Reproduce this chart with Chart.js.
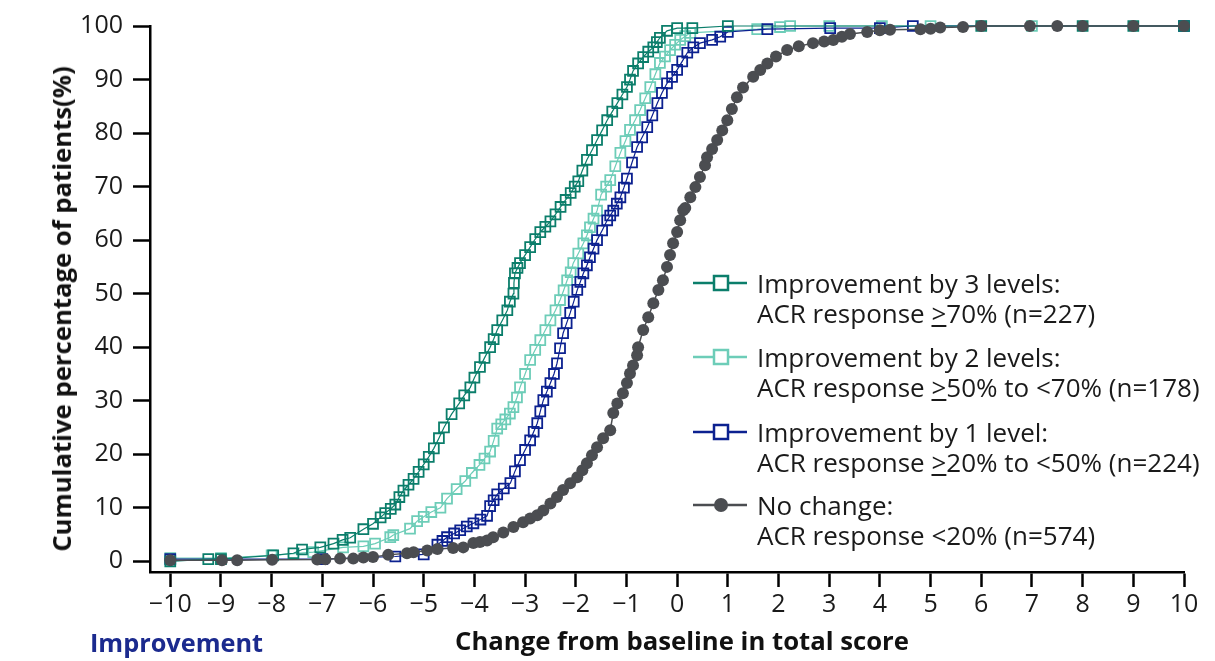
<!DOCTYPE html>
<html>
<head>
<meta charset="utf-8">
<script src="https://cdn.jsdelivr.net/npm/chart.js@4.4.1/dist/chart.umd.min.js"></script>
<style>
  html, body { margin: 0; padding: 0; background: #fff; }
  #wrap { position: relative; width: 1215px; height: 661px; overflow: hidden; font-family: "Open Sans", Lato, sans-serif; }
  canvas { position: absolute; left: 0; top: 0; }
  .leg { position: absolute; left: 693px; color: #1a1a1a; font-size: 26px; line-height: 30px; }
  .leg .txt { position: absolute; left: 64px; top: 0; white-space: nowrap; }
  .leg svg { position: absolute; left: 0; top: 6px; }
  #impr { position: absolute; left: 90px; top: 627px; font-size: 25.3px; line-height: 30px; font-weight: bold; color: #1b2a8e; white-space: nowrap; }
  .anchor { position: absolute; width: 0; height: 0; }
  .anchor span { position: absolute; left: 0; top: 0; white-space: nowrap; font-weight: bold; font-size: 25.7px; line-height: 30px; color: #111; }
  #xt span { transform: translate(-50%, -50%); }
  #yt span { transform: translate(-50%, -50%) rotate(-90deg); }
</style>
</head>
<body>
<div id="wrap">
  <canvas id="c" width="1215" height="661"></canvas>
  <div class="leg" style="top:268px">
    <svg width="56" height="18"><line x1="0" y1="9" x2="54" y2="9" stroke="#0b7e6b" stroke-width="2.5"/><rect x="21" y="2" width="14" height="14" fill="#fff" stroke="#0b7e6b" stroke-width="2.5"/></svg>
    <div class="txt">Improvement by 3 levels:<br>ACR response <u>&gt;</u>70% (n=227)</div>
  </div>
  <div class="leg" style="top:342px">
    <svg width="56" height="18"><line x1="0" y1="9" x2="54" y2="9" stroke="#6dcdb8" stroke-width="2.5"/><rect x="21" y="2" width="14" height="14" fill="#fff" stroke="#6dcdb8" stroke-width="2.5"/></svg>
    <div class="txt">Improvement by 2 levels:<br>ACR response <u>&gt;</u>50% to &lt;70% (n=178)</div>
  </div>
  <div class="leg" style="top:417px">
    <svg width="56" height="18"><line x1="0" y1="9" x2="54" y2="9" stroke="#0c2190" stroke-width="2.5"/><rect x="21" y="2" width="14" height="14" fill="#fff" stroke="#0c2190" stroke-width="2.5"/></svg>
    <div class="txt">Improvement by 1 level:<br>ACR response <u>&gt;</u>20% to &lt;50% (n=224)</div>
  </div>
  <div class="leg" style="top:490px">
    <svg width="56" height="18"><line x1="0" y1="9" x2="54" y2="9" stroke="#4b4d51" stroke-width="2.5"/><circle cx="28" cy="9" r="7" fill="#4b4d51"/></svg>
    <div class="txt">No change:<br>ACR response &lt;20% (n=574)</div>
  </div>
  <div id="impr">Improvement</div>
  <div class="anchor" id="xt" style="left:682px; top:641px"><span>Change from baseline in total score</span></div>
  <div class="anchor" id="yt" style="left:62px; top:309px"><span>Cumulative percentage of patients(%)</span></div>
</div>
<script>
// ---- data ----
const xTicks = [-10,-9,-8,-7,-6,-5,-4,-3,-2,-1,0,1,2,3,4,5,6,7,8,9,10];
const yTicks = [0,10,20,30,40,50,60,70,80,90,100];

// Improvement by 3 levels (ACR >=70%)
const lvl3X = [-10,-9.25,-9.0,-7.97,-7.57,-7.4,-7.04,-6.78,-6.6,-6.45,-6.19,-6.0,-5.85,-5.76,-5.65,-5.56,-5.48,-5.4,-5.3,-5.2,-5.1,-5.0,-4.9,-4.8,-4.7,-4.6,-4.45,-4.3,-4.2,-4.08,-4.0,-3.89,-3.8,-3.69,-3.62,-3.55,-3.45,-3.35,-3.3,-3.23,-3.22,-3.2,-3.15,-3.1,-3.0,-2.9,-2.8,-2.7,-2.6,-2.5,-2.4,-2.3,-2.2,-2.1,-2.02,-1.95,-1.87,-1.78,-1.68,-1.58,-1.48,-1.38,-1.28,-1.18,-1.08,-0.99,-0.93,-0.87,-0.77,-0.67,-0.57,-0.47,-0.4,-0.34,-0.2,0,0.3,1.0,6,8,9,10];
const lvl3Y = [0,0.4,0.4,1.1,1.5,2.2,2.6,3.3,4.0,4.4,6.0,7.0,8.2,9.0,9.8,10.6,12,13.2,14.3,15.4,16.7,18.1,19.5,21.1,23,25,27.5,29.5,31,32.5,34.3,36.3,38,40,41.5,43.2,45,46.9,48.5,50,52,53.8,54.8,55.7,57.2,58.7,60.2,61.5,62.5,63.5,64.8,66.2,67.5,68.8,70,71,73,75,76.8,78.7,80.5,82.4,84,85.6,87.2,88.6,90,91.6,93,94.2,95.2,96,97,97.8,99.1,99.6,99.6,100,100,100,100,100];

// Improvement by 2 levels (ACR >=50% to <70%)
const lvl2X = [-10,-9,-8,-7.18,-6.59,-6.19,-5.96,-5.66,-5.6,-5.27,-5.13,-5.0,-4.85,-4.67,-4.54,-4.35,-4.18,-4.05,-3.9,-3.8,-3.69,-3.62,-3.55,-3.47,-3.39,-3.3,-3.23,-3.16,-3.1,-3.0,-2.9,-2.8,-2.7,-2.6,-2.5,-2.4,-2.31,-2.24,-2.17,-2.1,-2.05,-1.95,-1.85,-1.78,-1.72,-1.65,-1.58,-1.5,-1.4,-1.32,-1.22,-1.12,-1.02,-0.93,-0.83,-0.73,-0.63,-0.53,-0.43,-0.34,-0.24,-0.14,-0.04,0.06,0.16,0.26,1.58,2.03,2.23,3.0,4.04,5.0,7,10];
const lvl2Y = [0.6,0.6,1.1,1.7,2.6,2.8,3.3,4.5,4.9,6.1,7.5,8.3,9.2,10,11.7,13.5,15,16.5,18,19.2,20.5,22.5,24.8,25.6,26.5,27.6,28.8,30.6,32.5,35,37.6,39.5,41.3,43.2,45,46.9,48.8,50.6,52.5,54,55.7,57.5,59.4,60.9,62.4,64,65.5,68.5,70,71.2,73.8,76.3,78.5,80.6,82.4,84.3,86.5,88.6,91,93.1,94.3,95.5,96.5,97.4,98.1,98.7,99.4,99.8,100,100,100,100,100,100];

// Improvement by 1 level (ACR >=20% to <50%)
const lvl1X = [-10,-7.0,-5.56,-5.0,-4.73,-4.63,-4.54,-4.4,-4.28,-4.15,-4.02,-3.88,-3.75,-3.69,-3.62,-3.55,-3.42,-3.29,-3.2,-3.1,-3.0,-2.9,-2.83,-2.76,-2.7,-2.64,-2.57,-2.5,-2.43,-2.37,-2.31,-2.25,-2.18,-2.11,-2.04,-1.97,-1.91,-1.85,-1.78,-1.72,-1.65,-1.58,-1.48,-1.38,-1.32,-1.26,-1.19,-1.12,-1.05,-0.99,-0.89,-0.79,-0.69,-0.59,-0.49,-0.39,-0.3,-0.2,-0.1,0,0.1,0.2,0.32,0.45,0.69,0.85,1.0,1.78,3.02,4.0,4.65,10];
const lvl1Y = [0.4,0.4,0.9,1.3,3.1,3.8,4.5,5.2,5.8,6.5,7.1,7.8,8.5,10.3,11.4,12.5,13.6,14.6,16.8,18.9,20.8,22.6,24.2,25.8,28,30.1,31.7,33.3,35,37,39.8,42.6,44.5,46.4,48.5,50.7,52.2,53.8,55.3,56.8,58.4,60,61.8,63.7,64.6,65.5,66.8,68,69.8,71.5,74.5,77.4,79.2,81.1,83.3,85.6,87.5,89.3,90.5,91.8,93.4,95,96,96.8,97.4,98,98.9,99.4,99.6,99.6,100,100];

// No change (ACR <20%)
const noneX = [-10,-8.98,-8.68,-7.99,-7.1,-6.94,-6.65,-6.39,-6.19,-6.0,-5.7,-5.33,-5.2,-4.93,-4.73,-4.42,-4.22,-4.02,-3.89,-3.75,-3.63,-3.43,-3.23,-3.04,-2.9,-2.76,-2.64,-2.5,-2.37,-2.25,-2.11,-1.97,-1.87,-1.78,-1.68,-1.58,-1.46,-1.32,-1.26,-1.18,-1.07,-0.99,-0.93,-0.87,-0.79,-0.77,-0.67,-0.57,-0.47,-0.37,-0.28,-0.2,-0.14,-0.08,0,0.06,0.12,0.16,0.26,0.36,0.45,0.55,0.59,0.69,0.79,0.89,0.99,1.08,1.18,1.3,1.5,1.64,1.78,1.95,2.17,2.4,2.68,2.9,3.08,3.25,3.41,3.75,4.0,4.2,4.8,5.0,5.19,5.64,6,6.96,7.5,8,9,10];
const noneY = [0.2,0.2,0.2,0.3,0.35,0.4,0.5,0.5,0.7,0.8,1.2,1.5,1.7,2.0,2.3,2.5,2.6,3.4,3.6,3.9,4.5,5.4,6.4,7.3,8.0,8.6,9.5,10.8,12,13.3,14.6,15.7,17,18.3,19.8,21.3,23,24.5,27.7,29.5,31.4,33.3,35.1,36.6,38.5,40,43.2,45.6,48.2,50.7,52.5,55,57.2,59.4,61.5,63.7,65.6,66,68,69.9,71.8,74,75.5,77,78.7,80.5,82.4,84.5,86.7,88.5,90.5,91.8,93,94.3,95.5,96.2,96.8,97.1,97.4,98,98.5,98.9,99.2,99.3,99.4,99.5,99.7,99.8,100,100,100,100,100,100];

const pts = (xs, ys) => xs.map((x, i) => ({ x: x, y: ys[i] }));
const FONT = '"Open Sans", Lato, sans-serif';

const sq = (color, order) => ({
  showLine: true, borderColor: color, borderWidth: 1.2,
  pointStyle: 'rect', pointRadius: 7, pointBorderWidth: 1.8,
  pointBorderColor: color, pointBackgroundColor: 'rgba(255,255,255,0)',
  clip: false, order: order
});

new Chart(document.getElementById('c'), {
  type: 'scatter',
  data: {
    datasets: [
      Object.assign({ label: 'Improvement by 3 levels', data: pts(lvl3X, lvl3Y) }, sq('#0b7e6b', 1)),
      Object.assign({ label: 'Improvement by 2 levels', data: pts(lvl2X, lvl2Y) }, sq('#6dcdb8', 3)),
      Object.assign({ label: 'Improvement by 1 level', data: pts(lvl1X, lvl1Y) }, sq('#0c2190', 2)),
      { label: 'No change', data: pts(noneX, noneY), showLine: true, borderColor: '#4b4d51', borderWidth: 1.5,
        pointStyle: 'circle', pointRadius: 6, pointBorderWidth: 0, pointBackgroundColor: '#4b4d51', clip: false, order: 0 }
    ]
  },
  options: {
    responsive: false, animation: false, devicePixelRatio: 1,
    layout: { padding: { left: 0, right: 31, top: 26, bottom: 0 } },
    plugins: { legend: { display: false }, tooltip: { enabled: false } },
    scales: {
      x: {
        type: 'linear', min: -10.4, max: 10,
        afterBuildTicks: s => { s.ticks = xTicks.map(v => ({ value: v })); },
        afterFit: s => { s.height = 89; },
        border: { display: true, color: '#000', width: 2.5 },
        grid: { display: true, drawOnChartArea: false, drawTicks: true, tickLength: 15, tickWidth: 2.5, tickColor: '#000' },
        ticks: { color: '#1a1a1a', font: { family: FONT, size: 25 }, padding: 3, maxRotation: 0,
          callback: v => v < 0 ? '\u2212' + Math.abs(v) : String(v) },
        title: { display: false }
      },
      y: {
        type: 'linear', min: -2, max: 100,
        afterBuildTicks: s => { s.ticks = yTicks.map(v => ({ value: v })); },
        afterFit: s => { s.width = 150; },
        border: { display: true, color: '#000', width: 2.5 },
        grid: { display: true, drawOnChartArea: false, drawTicks: true, tickLength: 17, tickWidth: 2.5, tickColor: '#000' },
        ticks: { color: '#1a1a1a', font: { family: FONT, size: 25 }, padding: 10 },
        title: { display: false }
      }
    }
  }
});
</script>
</body>
</html>
